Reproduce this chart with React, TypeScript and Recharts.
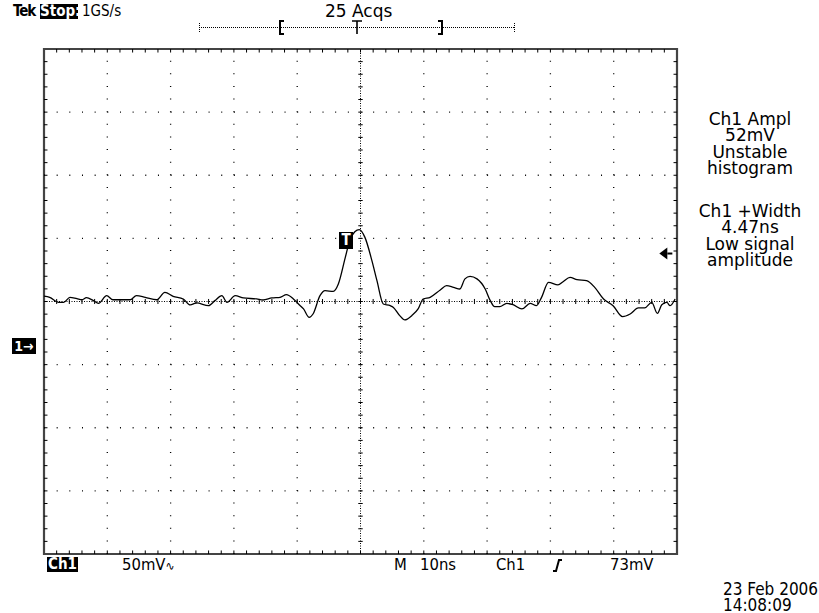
import React from 'react';
import { LineChart, Line, XAxis, YAxis, ReferenceLine, ReferenceArea, ReferenceDot } from 'recharts';

// Ch1 trace: time (ns, trigger at 0) and voltage (mV above ground)
const timeNs = [
  -50, -49.1, -47.7, -46.9, -45.9, -44.8, -44.0, -43.3, -42.2, -41.4,
  -40.1, -39.1, -36.4, -35.4, -34.0, -32.2, -30.9, -29.6, -28.0, -26.9,
  -25.9, -24.0, -23.0, -21.9, -21.1, -19.8, -18.5, -16.4, -15.4, -14.0,
  -12.7, -11.7, -10.6, -9.8, -9.0, -8.1, -7.5, -6.4, -5.6, -4.3,
  -3.5, -2.4, -1.7, -0.9, -0.2, 0.7, 1.8, 2.6, 3.6, 4.7,
  5.2, 6.2, 7.0, 8.1, 9.1, 9.9, 11.0, 12.6, 13.6, 14.7,
  15.7, 16.5, 17.3, 18.4, 19.7, 20.5, 21.2, 22.0, 23.1, 24.1,
  25.5, 26.8, 27.8, 28.6, 29.7, 31.2, 32.0, 33.1, 34.2, 35.7,
  37.0, 38.4, 39.9, 41.4, 42.6, 43.9, 44.9, 46.0, 46.9, 47.6,
  48.4, 48.9, 49.7,
];
const ch1mV = [
  39.2, 38.3, 34.3, 34.3, 38.3, 37.2, 36.4, 38.0, 35.7, 33.5,
  39.6, 36.4, 36.4, 39.6, 38.3, 36.4, 42.2, 39.1, 37.0, 32.3,
  33.9, 31.7, 35.7, 39.6, 34.3, 39.6, 37.8, 37.0, 36.2, 37.8,
  38.3, 40.4, 37.0, 33.0, 29.1, 22.4, 25.1, 39.6, 43.6, 43.0,
  48.9, 70.0, 83.2, 90.3, 92.0, 85.8, 67.4, 51.5, 33.0, 31.7,
  30.3, 23.8, 20.4, 23.8, 29.1, 37.0, 38.3, 44.1, 47.5, 46.2,
  44.9, 52.9, 54.9, 52.9, 44.9, 35.7, 30.9, 30.9, 33.5, 32.5,
  29.1, 33.5, 31.7, 38.3, 50.2, 48.1, 50.7, 54.1, 52.3, 51.5,
  46.2, 37.0, 31.7, 23.0, 25.1, 29.9, 29.9, 34.3, 25.6, 32.5,
  34.3, 31.7, 37.0,
];

// screen: 10 div x 10ns, 8 div x 50mV, ground 0.7 div below centre
const xDomain = [-50, 50];
const yDomain = [-165, 235];
const xCenter = 0;
const yCenter = 35;
const xMajor = [-40, -30, -20, -10, 10, 20, 30, 40];
const yMajor = [-115, -65, -15, 85, 135, 185];
const trigLevel = 73;

const xMinor: number[] = [];
for (let t = -48; t <= 48; t += 2) xMinor.push(t);
const yMinor: number[] = [];
for (let v = -155; v <= 225; v += 10) yMinor.push(v);

const data = timeNs.map((t, i) => ({ t, v: ch1mV[i] }));

const tekFont = '"DejaVu Sans", Verdana, sans-serif';
const narrowFont = '"DejaVu Sans Condensed", "DejaVu Sans", sans-serif';

const TrigArrow = (props: any) => {
  const { cx, cy } = props;
  return (
    <g>
      <path d={`M${cx - 5},${cy} L${cx + 3},${cy - 6} L${cx + 3},${cy + 6} Z`} fill="#000" />
      <line x1={cx + 3} y1={cy} x2={cx + 8} y2={cy} stroke="#000" strokeWidth={2} />
    </g>
  );
};

const txt = (style: React.CSSProperties): React.CSSProperties => ({
  position: 'absolute',
  whiteSpace: 'nowrap',
  color: '#000',
  ...style,
});

const invBox = (style: React.CSSProperties): React.CSSProperties =>
  txt({ background: '#000', color: '#fff', fontFamily: narrowFont, fontWeight: 'bold', textAlign: 'center', ...style });

export default function App() {
  return (
    <div style={{ position: 'absolute', left: 0, top: 0, width: 819, height: 613, background: '#fff', overflow: 'hidden' }}>
      <LineChart width={819} height={613} data={data} margin={{ top: 49, right: 142, bottom: 59, left: 44 }}>
        <XAxis dataKey="t" type="number" domain={xDomain} hide allowDataOverflow />
        <YAxis type="number" domain={yDomain} hide allowDataOverflow />

        {xMajor.map((t) => (
          <ReferenceLine key={'gx' + t} x={t} stroke="#000" strokeWidth={1.3} strokeDasharray="1 11.625" />
        ))}
        {yMajor.map((v) => (
          <ReferenceLine key={'gy' + v} y={v} stroke="#000" strokeWidth={1.3} strokeDasharray="1 11.66" />
        ))}

        <ReferenceLine x={xCenter} stroke="#000" strokeDasharray="1 1.5" />
        <ReferenceLine y={yCenter} stroke="#000" strokeDasharray="1 1.5" />
        {xMinor.map((t) => (
          <ReferenceLine key={'cx' + t} segment={[{ x: t, y: yCenter - 2 }, { x: t, y: yCenter + 2 }]} stroke="#000" />
        ))}
        {yMinor.map((v) => (
          <ReferenceLine key={'cy' + v} segment={[{ x: -0.35, y: v }, { x: 0.35, y: v }]} stroke="#000" />
        ))}

        {xMinor.map((t) => (
          <ReferenceLine key={'bb' + t} segment={[{ x: t, y: -165 }, { x: t, y: -162.2 }]} stroke="#000" />
        ))}
        {xMinor.map((t) => (
          <ReferenceLine key={'bt' + t} segment={[{ x: t, y: 235 }, { x: t, y: 232.2 }]} stroke="#000" />
        ))}
        {yMinor.map((v) => (
          <ReferenceLine key={'bl' + v} segment={[{ x: -50, y: v }, { x: -49.45, y: v }]} stroke="#000" />
        ))}
        {yMinor.map((v) => (
          <ReferenceLine key={'br' + v} segment={[{ x: 50, y: v }, { x: 49.45, y: v }]} stroke="#000" />
        ))}

        <ReferenceArea x1={-50} x2={50} y1={-165} y2={235} fill="none" stroke="#444" strokeWidth={2.2} />

        <Line dataKey="v" type="monotone" stroke="#000" strokeWidth={1.3} dot={false} isAnimationActive={false} />
        <ReferenceDot x={48} y={trigLevel} r={4} shape={TrigArrow} />
      </LineChart>

      {/* top status line */}
      <div style={txt({ left: 13, top: 2, fontFamily: narrowFont, fontWeight: 'bold', fontSize: 15, letterSpacing: -1 })}>Tek</div>
      <div style={invBox({ left: 40, top: 4, width: 38, height: 15, fontSize: 15, lineHeight: '15px' })}>Stop:</div>
      <div style={txt({ left: 82, top: 2, fontFamily: narrowFont, fontSize: 15 })}>1GS/s</div>
      <div style={txt({ left: 325, top: 1, fontFamily: tekFont, fontSize: 17 })}>25 Acqs</div>

      <svg width={819} height={45} style={{ position: 'absolute', left: 0, top: 0 }}>
        <line x1={199} y1={27.5} x2={514} y2={27.5} stroke="#000" strokeDasharray="1 1" />
        <line x1={199.5} y1={23} x2={199.5} y2={32} stroke="#000" strokeDasharray="1 1" />
        <line x1={514.5} y1={23} x2={514.5} y2={32} stroke="#000" strokeDasharray="1 1" />
        <path d="M284,21 L280,21 L280,34 L284,34" fill="none" stroke="#000" strokeWidth={2} />
        <path d="M438,21 L442,21 L442,34 L438,34" fill="none" stroke="#000" strokeWidth={2} />
        <path d="M352,21 L362,21 M357,21 L357,34" fill="none" stroke="#000" strokeWidth={1.6} />
      </svg>

      {/* right measurement readouts */}
      <div style={txt({ left: 690, top: 111, width: 120, textAlign: 'center', fontFamily: tekFont, fontSize: 17, lineHeight: '16.3px', whiteSpace: 'pre' })}>
        {'Ch1 Ampl\n52mV\nUnstable\nhistogram'}
      </div>
      <div style={txt({ left: 690, top: 203, width: 120, textAlign: 'center', fontFamily: tekFont, fontSize: 17, lineHeight: '16.3px', whiteSpace: 'pre' })}>
        {'Ch1 +Width\n4.47ns\nLow signal\namplitude'}
      </div>

      {/* markers */}
      <div style={invBox({ left: 12, top: 338, width: 24, height: 16, fontSize: 14, lineHeight: '16px' })}>1→</div>
      <div style={invBox({ left: 339, top: 232, width: 14, height: 17, fontSize: 15, lineHeight: '17px' })}>T</div>

      {/* bottom readouts */}
      <div style={invBox({ left: 47, top: 557, width: 31, height: 15, fontSize: 15, lineHeight: '15px' })}>Ch1</div>
      <div style={txt({ left: 122, top: 556, fontFamily: narrowFont, fontSize: 16.5, lineHeight: '17px' })}>50mV<span style={{ fontSize: 12 }}>∿</span></div>
      <div style={txt({ left: 394, top: 556, fontFamily: narrowFont, fontSize: 16.5, lineHeight: '17px' })}>M</div>
      <div style={txt({ left: 420, top: 556, fontFamily: narrowFont, fontSize: 16.5, lineHeight: '17px' })}>10ns</div>
      <div style={txt({ left: 496, top: 556, fontFamily: narrowFont, fontSize: 16.5, lineHeight: '17px' })}>Ch1</div>
      <svg width={14} height={17} style={{ position: 'absolute', left: 551, top: 557 }}>
        <path d="M2,14 L5,14 L8,3 L11,3" fill="none" stroke="#000" strokeWidth={2} />
      </svg>
      <div style={txt({ left: 610, top: 556, fontFamily: narrowFont, fontSize: 16.5, lineHeight: '17px' })}>73mV</div>

      <div style={txt({ left: 723, top: 582, fontFamily: narrowFont, fontSize: 17, lineHeight: '15.5px', whiteSpace: 'pre' })}>
        {'23 Feb 2006\n14:08:09'}
      </div>
    </div>
  );
}
